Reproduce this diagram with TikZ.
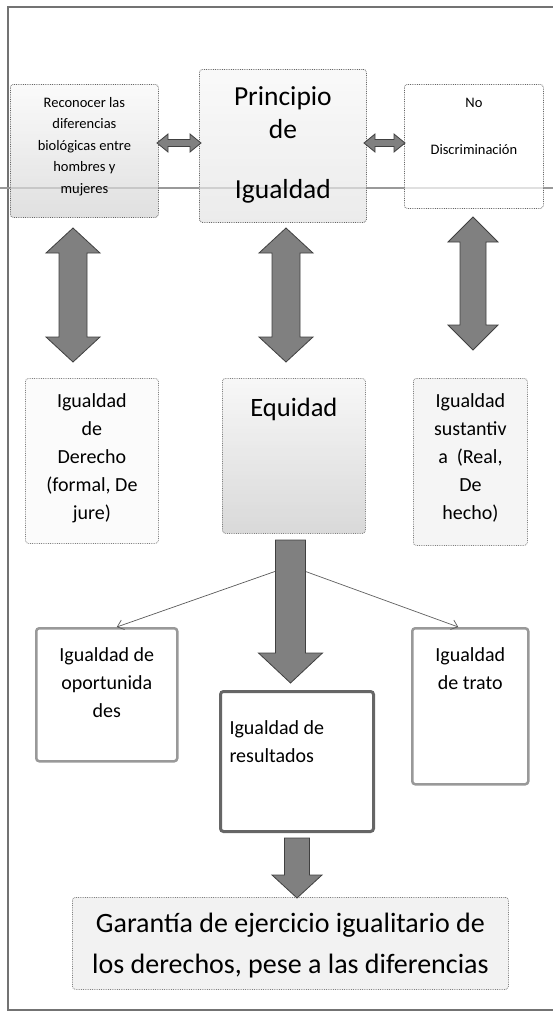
\documentclass[tikz,border=0pt]{standalone}
\usepackage{fontspec}
\setmainfont{Carlito}
\usetikzlibrary{calc,arrows.meta}
\newcommand\bxt[4]{\begin{minipage}[c][#2][t]{#1}\centering\lineskiplimit=-100pt\vspace*{\dimexpr#3-1em\relax}\rule{0pt}{1em}#4\end{minipage}}
\newcommand\bxl[4]{\begin{minipage}[c][#2][t]{#1}\raggedright\leftskip=9pt\lineskiplimit=-100pt\vspace*{\dimexpr#3-1em\relax}\rule{0pt}{1em}#4\end{minipage}}
\newcommand\vdarr[5]{\path[bigarrow] let \p1=(#1), \p2=(#2) in (\x1,\y1) -- (\x1+#4,\y1-#5) -- (\x1+#3,\y1-#5) -- (\x1+#3,\y2+#5) -- (\x1+#4,\y2+#5) -- (\x1,\y2) -- (\x1-#4,\y2+#5) -- (\x1-#3,\y2+#5) -- (\x1-#3,\y1-#5) -- (\x1-#4,\y1-#5) -- cycle;}
\newcommand\sdarr[5]{\path[bigarrow] let \p1=(#1), \p2=(#2) in (\x1-#3,\y1) -- (\x1+#3,\y1) -- (\x1+#3,\y2+#5) -- (\x1+#4,\y2+#5) -- (\x1,\y2) -- (\x1-#4,\y2+#5) -- (\x1-#3,\y2+#5) -- cycle;}
\newcommand\hdarr[5]{\path[bigarrow] let \p1=(#1), \p2=(#2) in (\x1,\y1) -- (\x1+#5,\y1+#4) -- (\x1+#5,\y1+#3) -- (\x2-#5,\y1+#3) -- (\x2-#5,\y1+#4) -- (\x2,\y1) -- (\x2-#5,\y1-#4) -- (\x2-#5,\y1-#3) -- (\x1+#5,\y1-#3) -- (\x1+#5,\y1-#4) -- cycle;}
\tikzset{
  frame/.style={draw=black!55, line width=2pt},
  hline/.style={draw=black!40, line width=1.5pt},
  box/.style={inner sep=0pt, anchor=north west, rounded corners=3pt, text opacity=1},
  topbox/.style={box, draw=black!60, line width=0.8pt, densely dotted, fill opacity=0.7},
  midbox/.style={box, draw=black!50, line width=0.8pt, densely dotted, fill opacity=0.75},
  lowbox/.style={box, draw=black!40, line width=2.5pt},
  resbox/.style={box, draw=black!60, line width=3pt},
  bigarrow/.style={fill=black!50, draw=black!75, line width=0.8pt, line join=miter},
  thinarrow/.style={draw=black!65, line width=0.7pt, -{Straight Barb[length=6pt,width=10pt]}},
  fs/.style={font=\fontsize{14.5}{21.5}\selectfont},
  fm/.style={font=\fontsize{20}{28}\selectfont},
}
\begin{document}
\begin{tikzpicture}[x=1pt,y=-1pt]
\useasboundingbox (0,0) rectangle (553,1013);
\draw[frame] (553,7) -- (8,7) -- (8,1010) -- (553,1010);
\draw[hline] (0,188) -- (553,188);
% top row
\node[topbox, fs, top color=gray!5, bottom color=gray!35] (rec) at (10,84)
  {\bxt{148pt}{133pt}{23pt}{Reconocer las\\ diferencias\\ biológicas entre\\ hombres y\\ mujeres}};
\node[topbox, font=\fontsize{27.5}{33}\selectfont, top color=gray!6, bottom color=gray!22] (princ) at (199,69)
  {\bxt{167pt}{153pt}{36pt}{Principio\\ de\\[27pt] Igualdad}};
\node[topbox, fs, fill=white] (nodisc) at (404,84)
  {\bxt{139pt}{124pt}{23pt}{No\\[25.5pt] Discriminación}};
% middle row
\node[midbox, fm, fill=gray!4] (midl) at (25,378)
  {\bxt{133pt}{165pt}{29pt}{Igualdad\\ de\\ Derecho\\ (formal, De\\ jure)}};
\node[midbox, font=\fontsize{26.5}{32}\selectfont, top color=gray!8, bottom color=gray!40] (equi) at (222,378)
  {\bxt{143pt}{155pt}{38pt}{Equidad}};
\node[midbox, fm, fill=gray!10] (midr) at (413,378)
  {\bxt{114pt}{167pt}{29pt}{Igualdad\\ sustantiv\\ a~ (Real,\\ De\\ hecho)}};
% lower row
\node[lowbox, fm, fill=white] (lowl) at (35,627)
  {\bxt{141pt}{133pt}{33pt}{Igualdad de\\ oportunida\\ des}};
\node[resbox, fm, fill=white] (res) at (219,690)
  {\bxl{153pt}{140pt}{43pt}{Igualdad de\\ resultados}};
\node[lowbox, fm, fill=white] (trato) at (411,627)
  {\bxt{116pt}{156pt}{33pt}{Igualdad\\ de trato}};
\node[midbox, font=\fontsize{28}{41}\selectfont, fill=gray!14] (bot) at (72,897)
  {\bxt{436pt}{92pt}{35pt}{Garantía de ejercicio igualitario de\\ los derechos, pese a las diferencias}};
% arrow end points
\coordinate (h1l) at (157,143); \coordinate (h1r) at (201,143);
\coordinate (h2l) at (364,143); \coordinate (h2r) at (405,143);
\coordinate (v1t) at (73,228);  \coordinate (v1b) at (73,362);
\coordinate (v2t) at (286,228); \coordinate (v2b) at (286,362);
\coordinate (v3t) at (473,217); \coordinate (v3b) at (473,350);
\coordinate (d1s) at (290.5,540); \coordinate (d1t) at (290.5,683);
\coordinate (d2s) at (297,838); \coordinate (d2t) at (297,898);
\coordinate (split) at (290.5,566);
% thin arrows
\draw[thinarrow] (split) -- ([xshift=10pt]lowl.north);
\draw[thinarrow] (split) -- ([xshift=-12pt]trato.north);
% block arrows
\hdarr{h1l}{h1r}{3.5pt}{9pt}{11pt}
\hdarr{h2l}{h2r}{3.5pt}{9pt}{11pt}
\vdarr{v1t}{v1b}{14pt}{27pt}{25pt}
\vdarr{v2t}{v2b}{14pt}{27pt}{25pt}
\vdarr{v3t}{v3b}{13pt}{25pt}{25pt}
\sdarr{d1s}{d1t}{15pt}{32pt}{30pt}
\sdarr{d2s}{d2t}{12.5pt}{25pt}{23pt}
\end{tikzpicture}
\end{document}
